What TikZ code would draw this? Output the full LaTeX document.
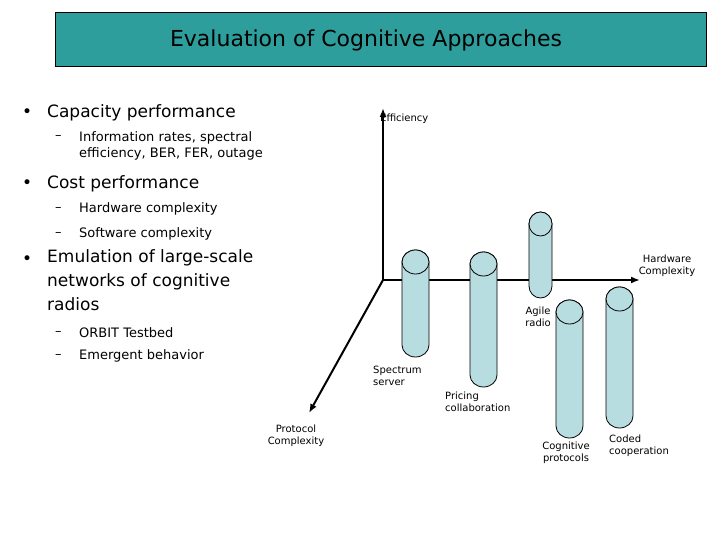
\documentclass[tikz,border=0pt]{standalone}
\usepackage{fontspec}
\setmainfont{DejaVu Sans}
\begin{document}
\begin{tikzpicture}[x=1pt,y=-1pt,
 cyl/.style={fill=cylfill,draw=black,line width=0.8pt},
 lbl/.style={font=\fontsize{10}{12}\selectfont,align=left,inner sep=0pt},
 big/.style={font=\fontsize{17}{24}\selectfont,anchor=west,inner sep=0pt,align=left},
 sub/.style={font=\fontsize{13}{16}\selectfont,anchor=west,inner sep=0pt,align=left},
 ax/.style={line width=2pt,-{Latex[length=9pt,width=7pt]}}]
\usetikzlibrary{arrows.meta}
\definecolor{cylfill}{HTML}{B8DDE1}
\definecolor{titlefill}{HTML}{2E9E9C}
\useasboundingbox (0,0) rectangle (720,540);
\node[draw=black,fill=titlefill,minimum width=651,minimum height=54,anchor=north west,inner sep=0pt] (title) at (55,12) {};
\node[font=\fontsize{22}{26}\selectfont] (tt) at (366,40) {Evaluation of Cognitive Approaches};
% bullets
\node[big] (b1d) at (22,113) {•}; \node[big] (b1) at (47,113) {Capacity performance};
\node[sub] (s1d) at (55,137) {–}; \node[sub] (s1) at (79,146) {Information rates, spectral\\efficiency, BER, FER, outage};
\node[big] (b2d) at (22,184) {•}; \node[big] (b2) at (47,184) {Cost performance};
\node[sub] (s2d) at (55,209) {–}; \node[sub] (s2) at (79,209) {Hardware complexity};
\node[sub] (s3d) at (55,234) {–}; \node[sub] (s3) at (79,234) {Software complexity};
\node[big] (b3d) at (22,260) {•}; \node[big,anchor=north west] (b3) at (47,249) {Emulation of large-scale\\networks of cognitive\\radios};
\node[sub] (s4d) at (55,333) {–}; \node[sub] (s4) at (79,333) {ORBIT Testbed};
\node[sub] (s5d) at (55,356) {–}; \node[sub] (s5) at (79,356) {Emergent behavior};
% axes
\coordinate (o) at (383,280);
\coordinate (ytip) at (383,108);
\coordinate (xtip) at (640,280);
\coordinate (ztip) at (309,413);
\draw[ax] (o) -- (ytip);
\draw[ax] (o) -- (xtip);
\draw[ax] (o) -- (ztip);
\node[lbl,anchor=west] (eff) at (380,119) {Efficiency};
\node[lbl,align=center] (hw) at (667,266) {Hardware\\Complexity};
\node[lbl,align=center] (pc) at (296,436) {Protocol\\Complexity};
% cylinders
\foreach \n/\xa/\xb/\yt/\yb in {c1/402/429/250/357, c2/470/497/252/387, c3/529/552/212/298, c4/556/583/300/438, c5/606/633/287/428}{
 \pgfmathsetmacro{\rx}{(\xb-\xa)/2}
 \pgfmathsetmacro{\xc}{(\xa+\xb)/2}
 \draw[cyl] (\xa,\yt+12) -- (\xa,\yb-12) arc[start angle=180,end angle=0,x radius=\rx,y radius=12] -- (\xb,\yt+12) arc[start angle=360,end angle=180,x radius=\rx,y radius=12] -- cycle;
 \draw[cyl] (\xc,\yt+12) ellipse[x radius=\rx,y radius=12];
}
\node[lbl,anchor=north west] (l1) at (373,366) {Spectrum\\server};
\node[lbl,anchor=north west] (l2) at (445,392) {Pricing\\collaboration};
\node[lbl,align=center] (l3) at (538,317) {Agile\\radio};
\node[lbl,align=center] (l4) at (566,453) {Cognitive\\protocols};
\node[lbl,anchor=north west] (l5) at (609,435) {Coded\\cooperation};
\end{tikzpicture}
\end{document}
